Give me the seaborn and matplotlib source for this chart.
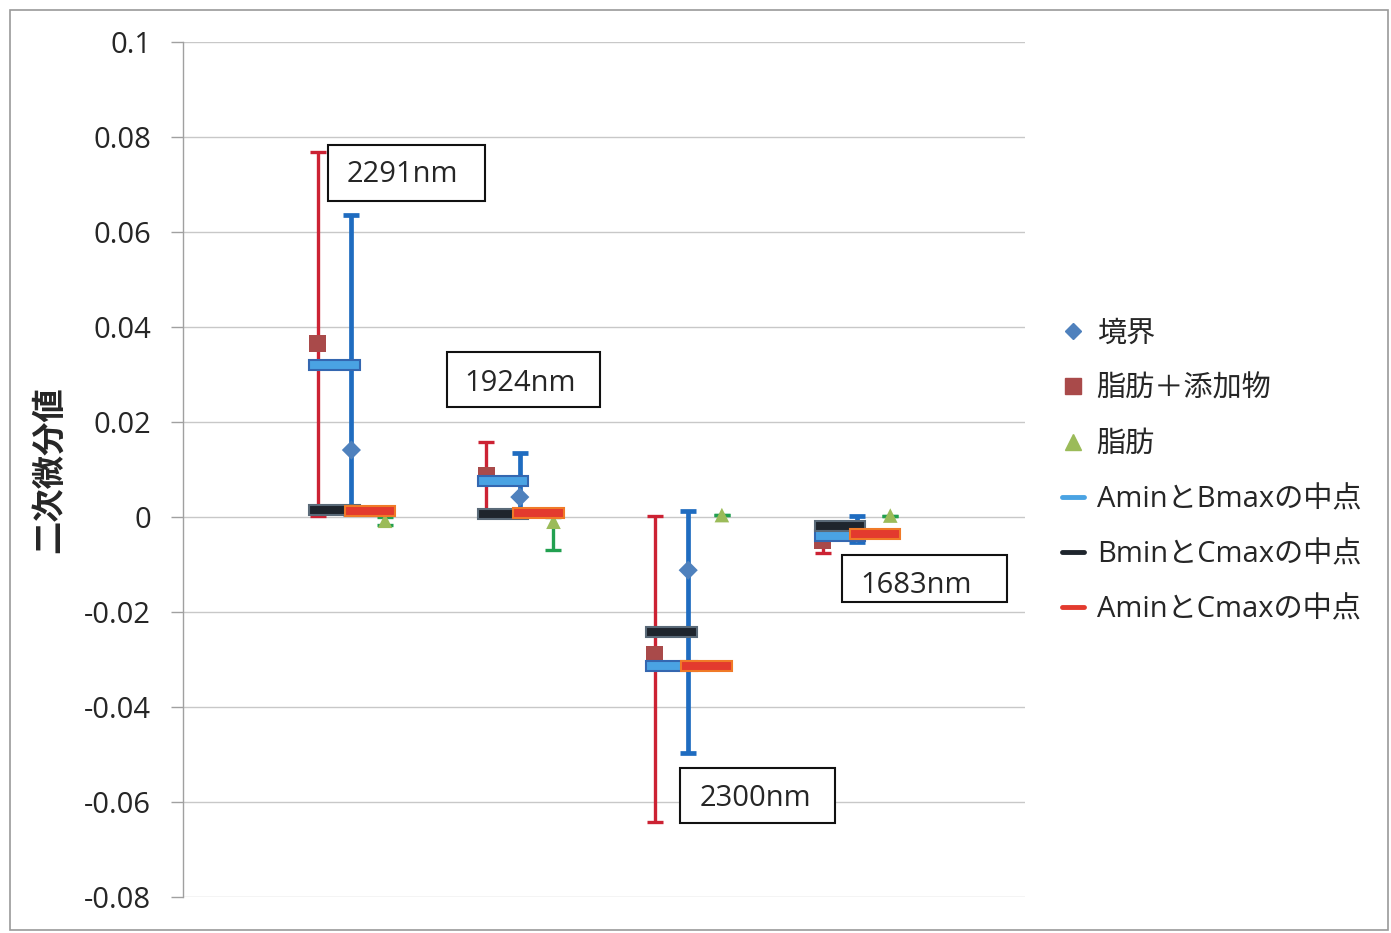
import numpy as np
import pandas as pd
import matplotlib
matplotlib.use("Agg")
import matplotlib.pyplot as plt
from matplotlib.lines import Line2D
from matplotlib.patches import Rectangle
import seaborn as sns

# ---- data -------------------------------------------------------------
groups = [1, 2, 3, 4]
band_labels = ["2291nm", "1924nm", "2300nm", "1683nm"]

# 境界 (boundary)
boundary = [0.0141, 0.0042, -0.0112, -0.0035]
boundary_hi = [0.0636, 0.0135, 0.0013, 0.0002]
boundary_lo = [0.0006, 0.0006, -0.0497, -0.0052]

# 脂肪＋添加物 (fat + additive)
fat_add = [0.0366, 0.0088, -0.0290, -0.0050]
fat_add_hi = [0.0768, 0.0158, 0.0002, -0.0025]
fat_add_lo = [0.0002, 0.0006, -0.0642, -0.0076]

# 脂肪 (fat)
fat = [-0.0008, -0.0010, 0.0004, 0.0003]
fat_hi = [0.0000, 0.0000, 0.0004, 0.0003]
fat_lo = [-0.0017, -0.0069, 0.0004, 0.0003]

# midpoints
amin_bmax = [0.0320, 0.0076, -0.0314, -0.0039]
bmin_cmax = [0.0015, 0.0006, -0.0242, -0.0019]
amin_cmax = [0.0013, 0.0008, -0.0314, -0.0036]

y_ticks = [-0.08, -0.06, -0.04, -0.02, 0.0, 0.02, 0.04, 0.06, 0.08, 0.1]
y_tick_labels = ["-0.08", "-0.06", "-0.04", "-0.02", "0",
                 "0.02", "0.04", "0.06", "0.08", "0.1"]

series_names = ["境界", "脂肪＋添加物", "脂肪",
                "AminとBmaxの中点", "BminとCmaxの中点", "AminとCmaxの中点"]

# ---- layout of the wavelength call-out boxes (data units) ----------------
box_x0 = [0.861, 1.568, 2.951, 3.913]
box_x1 = [1.794, 2.476, 3.872, 4.893]
box_y0 = [0.0665, 0.0232, -0.0644, -0.0179]
box_y1 = [0.0783, 0.0347, -0.0528, -0.0080]
text_x = [1.300, 2.001, 3.397, 4.353]
text_y = [0.0722, 0.0282, -0.0593, -0.0145]

# ---- style ------------------------------------------------------------
sns.set_theme(style="white")
plt.rcParams["font.family"] = ["Open Sans", "Noto Sans CJK JP", "DejaVu Sans"]

C_DIAMOND = "#4F81BD"
C_SQUARE = "#A94A4A"
C_TRIANGLE = "#9BBB59"
C_ERR_BLUE = "#1F6CC0"
C_ERR_RED = "#CC2233"
C_ERR_GREEN = "#22A050"
C_MID_AB = "#4AA3E3"
C_MID_BC = "#1E252D"
C_MID_AC = "#E33A2E"
TEXT = "#262626"

fig = plt.figure(figsize=(13.91, 9.33), dpi=100)
ax = fig.add_axes([183 / 1391, 1 - 897 / 933, (1025 - 183) / 1391, (897 - 42) / 933])

# offsets of each series inside a group
x_add = np.array(groups) - 0.2
x_bnd = np.array(groups) + 0.0
x_fat = np.array(groups) + 0.2


def draw_err(x, y, lo, hi, color, lw):
    y = np.asarray(y)
    yerr = np.vstack([y - np.asarray(lo), np.asarray(hi) - y])
    ax.errorbar(x, y, yerr=yerr, fmt="none", ecolor=color, elinewidth=lw,
                capsize=6, capthick=lw, zorder=2)


draw_err(x_add, fat_add, fat_add_lo, fat_add_hi, C_ERR_RED, 2.4)
draw_err(x_bnd, boundary, boundary_lo, boundary_hi, C_ERR_BLUE, 3.4)
draw_err(x_fat, fat, fat_lo, fat_hi, C_ERR_GREEN, 2.4)

df = pd.DataFrame({
    "x": np.concatenate([x_bnd, x_add, x_fat]),
    "y": boundary + fat_add + fat,
    "series": [series_names[0]] * 4 + [series_names[1]] * 4 + [series_names[2]] * 4,
})
marker_sizes = {series_names[0]: 95, series_names[1]: 150, series_names[2]: 110}
palette = {series_names[0]: C_DIAMOND, series_names[1]: C_SQUARE,
           series_names[2]: C_TRIANGLE}
markers = {series_names[0]: "D", series_names[1]: "s", series_names[2]: "^"}
for name in series_names[:3]:
    sub = df[df["series"] == name]
    sns.scatterplot(data=sub, x="x", y="y", color=palette[name],
                    marker=markers[name], s=marker_sizes[name],
                    edgecolor="none", legend=False, ax=ax, zorder=3)

# midpoint bars
bar_h = 0.0022
mid_w = 0.30
g = np.array(groups)
ax.bar(g - 0.25, bar_h, width=mid_w, bottom=np.array(amin_bmax) - bar_h / 2,
       align="edge", color=C_MID_AB, edgecolor="#3467B0", linewidth=1.5, zorder=4)
ax.bar(g - 0.25, bar_h, width=mid_w, bottom=np.array(bmin_cmax) - bar_h / 2,
       align="edge", color=C_MID_BC, edgecolor="#5A6A78", linewidth=1.5, zorder=4)
ax.bar(g - 0.04, bar_h, width=mid_w, bottom=np.array(amin_cmax) - bar_h / 2,
       align="edge", color=C_MID_AC, edgecolor="#F07A28", linewidth=1.5, zorder=5)

# wavelength call-outs
for x0, x1, y0, y1, tx, ty, txt in zip(box_x0, box_x1, box_y0, box_y1,
                                       text_x, text_y, band_labels):
    ax.add_patch(Rectangle((x0, y0), x1 - x0, y1 - y0, facecolor="white",
                           edgecolor="#111111", linewidth=1.5, zorder=6))
    ax.text(tx, ty, txt, ha="center", va="center", fontsize=21, color=TEXT,
            zorder=7)

# axes
ax.set_xlim(0, 5)
ax.set_ylim(-0.08, 0.1)
ax.set_xticks([])
ax.set_yticks(y_ticks)
ax.set_yticklabels(y_tick_labels, fontsize=21, color=TEXT)
ax.tick_params(axis="y", which="major", left=True, length=9, width=1,
               color="#A0A0A0", pad=14)
ax.yaxis.grid(True, color="#C8C8C8", linewidth=1.0)
ax.set_axisbelow(True)
for side in ["top", "right", "bottom"]:
    ax.spines[side].set_visible(False)
ax.spines["left"].set_color("#A0A0A0")
ax.spines["left"].set_linewidth(1.0)
ax.set_xlabel("")
ax.set_ylabel("二次微分値", fontsize=24, fontweight="bold", color=TEXT,
              family=["Noto Sans CJK JP", "DejaVu Sans"])
ax.yaxis.set_label_coords(-(183 - 66) / 842, 0.5)

# legend
handles = [
    Line2D([], [], marker="D", color=C_DIAMOND, linestyle="none", markersize=8),
    Line2D([], [], marker="s", color=C_SQUARE, linestyle="none", markersize=11),
    Line2D([], [], marker="^", color=C_TRIANGLE, linestyle="none", markersize=11),
    Line2D([], [], color=C_MID_AB, linewidth=3.5),
    Line2D([], [], color=C_MID_BC, linewidth=3.5),
    Line2D([], [], color=C_MID_AC, linewidth=3.5),
]
fig.legend(handles, series_names, loc="center left",
           bbox_to_anchor=(1050 / 1391, 1 - 472 / 933), frameon=False,
           fontsize=21, handlelength=0.75, handletextpad=0.45,
           labelspacing=0.9, borderaxespad=0, labelcolor=TEXT)

# outer chart border
fig.add_artist(Rectangle((10 / 1391, 3 / 933), 1378 / 1391, 920 / 933,
                         transform=fig.transFigure, fill=False,
                         edgecolor="#9A9A9A", linewidth=1.2))

fig.savefig("out.png", dpi=100)
